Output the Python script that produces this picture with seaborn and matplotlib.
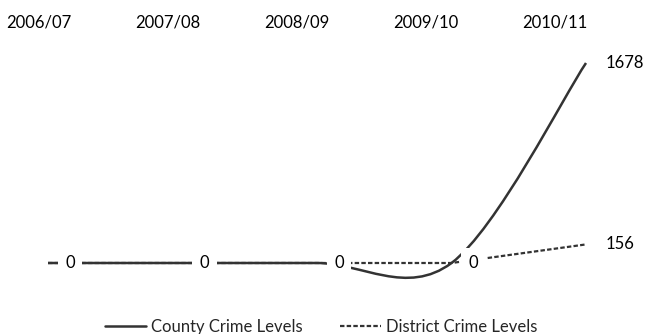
"""
Crime levels line chart (county vs district), smoothed county line.
Run with: python plot.py
"""

import numpy as np
import pandas as pd
import matplotlib.pyplot as plt
import seaborn as sns
from matplotlib.path import Path
from matplotlib.patches import PathPatch
from matplotlib.lines import Line2D


# --- Data ---
YEARS = ["2006/07", "2007/08", "2008/09", "2009/10", "2010/11"]
COUNTY = [0, 0, 0, 0, 1678]
DISTRICT = [0, 0, 0, 0, 156]

# --- Style ---
LINE_COLOR = "#333333"
DASH = (0, (2, 1))
FONT = ["Lato", "DejaVu Sans"]
LABEL_SIZE = 12
LEGEND_SIZE = 12
DPI = 100


def catmull_rom_path(xs, ys):
    """Bezier path through the points (Catmull-Rom style smoothing)."""
    pts = np.column_stack([xs, ys]).astype(float)
    n = len(pts)
    verts = [pts[0]]
    codes = [Path.MOVETO]
    for i in range(n - 1):
        p_prev = pts[max(i - 1, 0)]
        p0, p1 = pts[i], pts[i + 1]
        p_next = pts[min(i + 2, n - 1)]
        verts += [p0 + (p1 - p_prev) / 6, p1 - (p_next - p0) / 6, p1]
        codes += [Path.CURVE4] * 3
    return Path(verts, codes)


def plot_crime_levels(save_path: str = "out.png") -> None:
    sns.set_theme(style="white")
    plt.rcParams["font.family"] = FONT

    fig = plt.figure(figsize=(6.49, 3.34), dpi=DPI)
    ax = fig.add_axes([0, 0, 1, 1])

    x = np.arange(len(YEARS))
    df = pd.DataFrame({"x": x, "district": DISTRICT})

    # District line (straight segments)
    sns.lineplot(data=df, x="x", y="district", ax=ax, color=LINE_COLOR,
                 linewidth=1.6, linestyle=DASH, zorder=2, legend=False)

    # County line (smoothed)
    patch = PathPatch(catmull_rom_path(x, COUNTY), facecolor="none",
                      edgecolor=LINE_COLOR, linewidth=1.8, zorder=3,
                      capstyle="butt")
    ax.add_patch(patch)

    # pixel layout: x=0 at 48px, 134.5 px per category; y=0 at 71px from bottom
    ax.set_xlim(-48 / 134.5, (649 - 48) / 134.5)
    ymax = max(COUNTY)
    ax.set_ylim(-71 * ymax / 200, (334 - 71) * ymax / 200)
    ax.axis("off")

    label_box = dict(boxstyle="square,pad=0.45", fc="white", ec="none")

    # value labels
    for i in range(len(YEARS) - 1):
        ax.annotate(f"{COUNTY[i]}", (x[i], COUNTY[i]), xytext=(12.5, 0),
                    textcoords="offset points", ha="left", va="center",
                    fontsize=LABEL_SIZE, color="black", zorder=5,
                    bbox=label_box)
    for series in (COUNTY, DISTRICT):
        ax.annotate(f"{series[-1]}", (x[-1], series[-1]), xytext=(14, 0),
                    textcoords="offset points", ha="left", va="center",
                    fontsize=LABEL_SIZE, color="black", zorder=5,
                    bbox=label_box)

    # year labels along the top
    trans = ax.get_xaxis_transform()
    for i, year in enumerate(YEARS):
        ax.text(i * 0.96 - 0.07, 1 - 22 / 334, year, transform=trans,
                ha="center", va="center", fontsize=LABEL_SIZE, color="black")

    handles = [
        Line2D([], [], color=LINE_COLOR, linewidth=1.8),
        Line2D([], [], color=LINE_COLOR, linewidth=1.6, linestyle=DASH),
    ]
    ax.legend(handles, ["County Crime Levels", "District Crime Levels"],
              loc="center", bbox_to_anchor=(0.495, 0.022), ncol=2,
              frameon=False, fontsize=LEGEND_SIZE, handlelength=2.5,
              handletextpad=0.3, columnspacing=2.2)

    fig.savefig(save_path, dpi=DPI)
    plt.close(fig)


if __name__ == "__main__":
    plot_crime_levels()
